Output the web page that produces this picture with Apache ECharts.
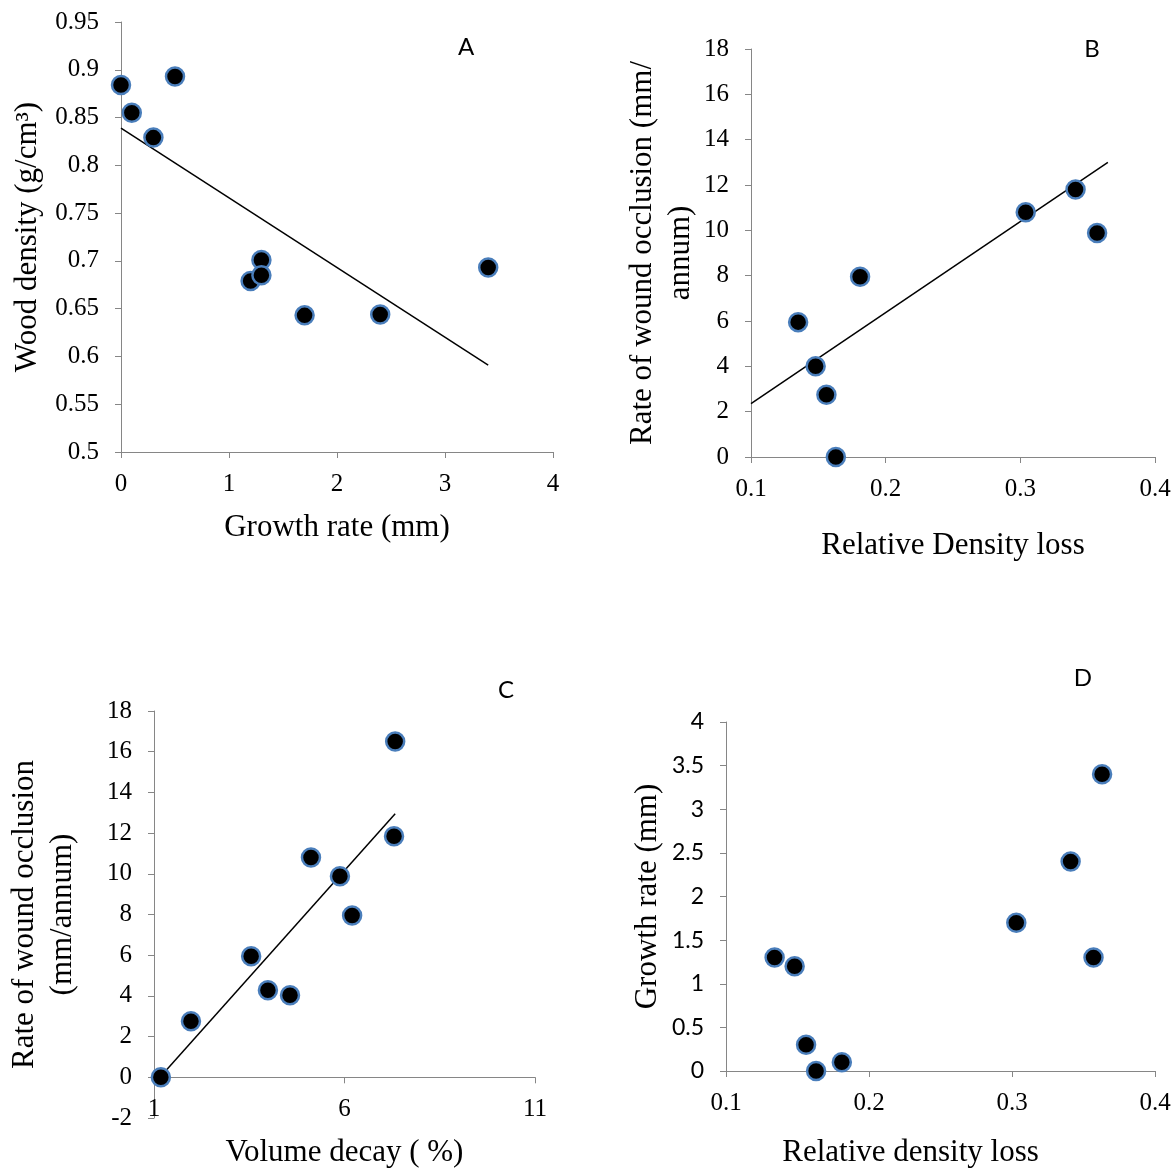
<!DOCTYPE html>
<html>
<head>
<meta charset="utf-8">
<script src="https://cdn.jsdelivr.net/npm/echarts@6/dist/echarts.min.js"></script>
<style>
html,body{margin:0;padding:0;background:#fff;}
#chart{width:1174px;height:1170px;}
</style>
</head>
<body>
<div id="chart"></div>
<script>
// Panel A: growth rate vs wood density
const aGrowth  = [0, 0.1, 0.3, 0.5, 1.2, 1.3, 1.3, 1.7, 2.4, 3.4];
const aDensity = [0.884, 0.855, 0.829, 0.893, 0.679, 0.701, 0.685, 0.643, 0.644, 0.693];
const aTrendX  = [0, 3.4];
const aTrendY  = [0.839, 0.591];

// Panel B: relative density loss vs rate of wound occlusion
const bLoss      = [0.135, 0.148, 0.156, 0.163, 0.181, 0.304, 0.341, 0.357];
const bOcclusion = [5.95, 4.0, 2.75, 0, 7.95, 10.8, 11.8, 9.88];
const bTrendX    = [0.1, 0.365];
const bTrendY    = [2.35, 13.0];

// Panel C: volume decay vs rate of wound occlusion
const cDecay     = [1.18, 1.97, 3.55, 3.99, 4.57, 5.12, 5.88, 6.2, 7.33, 7.3];
const cOcclusion = [0, 2.75, 5.95, 4.28, 4.03, 10.8, 9.88, 7.95, 16.5, 11.85];
const cTrendX    = [1.18, 7.33];
const cTrendY    = [0.05, 12.95];

// Panel D: relative density loss vs growth rate
const dLoss   = [0.134, 0.148, 0.156, 0.163, 0.181, 0.303, 0.341, 0.357, 0.363];
const dGrowth = [1.3, 1.2, 0.3, 0, 0.1, 1.7, 2.4, 1.3, 3.4];

// Axis ranges / ticks
const aXTicks = {min: 0, max: 4, interval: 1};
const aYTicks = {min: 0.5, max: 0.95, interval: 0.05};
const bXTicks = {min: 0.1, max: 0.4, interval: 0.1};
const bYTicks = {min: 0, max: 18, interval: 2};
const cXTicks = {min: 1, max: 11, interval: 5};
const cYTicks = {min: -2, max: 18, interval: 2};
const dXTicks = {min: 0.1, max: 0.4, interval: 0.1};
const dYTicks = {min: 0, max: 4, interval: 0.5};

const panelLetters = ['A', 'B', 'C', 'D'];

const zip = (xs, ys) => xs.map((x, i) => [x, ys[i]]);

const SERIF = '"Liberation Serif", "Times New Roman", serif';
const SANS = 'Lato, Carlito, Calibri, sans-serif';
const AXIS_COLOR = '#868686';
const NAME_SIZE = 31;
const TICK_SIZE = 25;

function nameStyle(extra) {
  return Object.assign({fontFamily: SERIF, fontSize: NAME_SIZE, color: '#000', lineHeight: 38}, extra || {});
}
function xAxis(idx, t, name, nameGap, extra) {
  return Object.assign({
    type: 'value', gridIndex: idx, min: t.min, max: t.max, interval: t.interval,
    name: name, nameLocation: 'middle', nameGap: nameGap,
    nameTextStyle: nameStyle(),
    axisLine: {show: true, onZero: false, lineStyle: {color: AXIS_COLOR, width: 1}},
    axisTick: {show: true, inside: false, length: 6, lineStyle: {color: AXIS_COLOR}},
    axisLabel: {fontFamily: SERIF, fontSize: TICK_SIZE, color: '#000', margin: 20},
    splitLine: {show: false}
  }, extra || {});
}
function yAxis(idx, t, name, nameGap, labelFont, labelSize, extra) {
  return Object.assign({
    type: 'value', gridIndex: idx, min: t.min, max: t.max, interval: t.interval,
    name: name, nameLocation: 'middle', nameGap: nameGap, nameRotate: 90,
    nameTextStyle: nameStyle(),
    axisLine: {show: true, onZero: false, lineStyle: {color: AXIS_COLOR, width: 1}},
    axisTick: {show: true, inside: false, length: 6, lineStyle: {color: AXIS_COLOR}},
    axisLabel: {fontFamily: labelFont, fontSize: labelSize, color: '#000', margin: 22},
    splitLine: {show: false}
  }, extra || {});
}

const markerStyle = {color: '#000', borderColor: '#4a7ebb', borderWidth: 2.5, opacity: 1};
function scatter(idx, data) {
  return {type: 'scatter', xAxisIndex: idx, yAxisIndex: idx, data: data,
    symbol: 'circle', symbolSize: 18, itemStyle: markerStyle, z: 3, silent: true};
}
function trend(idx, data) {
  return {type: 'line', xAxisIndex: idx, yAxisIndex: idx, data: data,
    symbol: 'none', lineStyle: {color: '#000', width: 1.5}, z: 2, silent: true};
}

const chart = echarts.init(document.getElementById('chart'), null, {renderer: 'canvas'});
chart.setOption({
  backgroundColor: '#fff',
  animation: false,
  grid: [
    {left: 121, top: 22, width: 432, height: 430, containLabel: false, outerBoundsMode: 'none'},
    {left: 751, top: 49, width: 404, height: 408, containLabel: false, outerBoundsMode: 'none'},
    {left: 154, top: 711, width: 381, height: 407, containLabel: false, outerBoundsMode: 'none'},
    {left: 726, top: 722, width: 429, height: 349, containLabel: false, outerBoundsMode: 'none'}
  ],
  xAxis: [
    xAxis(0, aXTicks, 'Growth rate (mm)', 57),
    xAxis(1, bXTicks, 'Relative Density loss', 70),
    // panel C: the x axis crosses the y axis at zero (y range -2..18)
    xAxis(2, cXTicks, 'Volume decay ( %)', 57, {offset: -40.7}),
    xAxis(3, dXTicks, 'Relative density loss', 63, {nameTextStyle: nameStyle({padding: [0, 60, 0, 0]})})
  ],
  yAxis: [
    yAxis(0, aYTicks, 'Wood density (g/cm³)', 74, SERIF, TICK_SIZE),
    yAxis(1, bYTicks, 'Rate of wound occlusion (mm/\nannum)', 51, SERIF, TICK_SIZE),
    yAxis(2, cYTicks, 'Rate of wound occlusion\n(mm/annum)', 72, SERIF, TICK_SIZE),
    yAxis(3, dYTicks, 'Growth rate (mm)', 59, SANS, 23)
  ],
  graphic: [
    {type: 'text', x: 466, y: 47, style: {text: panelLetters[0], font: '24px ' + SANS, fill: '#000', textAlign: 'center', textVerticalAlign: 'middle'}},
    {type: 'text', x: 1092, y: 49, style: {text: panelLetters[1], font: '24px ' + SANS, fill: '#000', textAlign: 'center', textVerticalAlign: 'middle'}},
    {type: 'text', x: 506, y: 690, style: {text: panelLetters[2], font: '24px ' + SANS, fill: '#000', textAlign: 'center', textVerticalAlign: 'middle'}},
    {type: 'text', x: 1083, y: 678, style: {text: panelLetters[3], font: '24px ' + SANS, fill: '#000', textAlign: 'center', textVerticalAlign: 'middle'}}
  ],
  series: [
    trend(0, zip(aTrendX, aTrendY)),
    scatter(0, zip(aGrowth, aDensity)),
    trend(1, zip(bTrendX, bTrendY)),
    scatter(1, zip(bLoss, bOcclusion)),
    trend(2, zip(cTrendX, cTrendY)),
    scatter(2, zip(cDecay, cOcclusion)),
    scatter(3, zip(dLoss, dGrowth))
  ]
});
</script>
</body>
</html>
